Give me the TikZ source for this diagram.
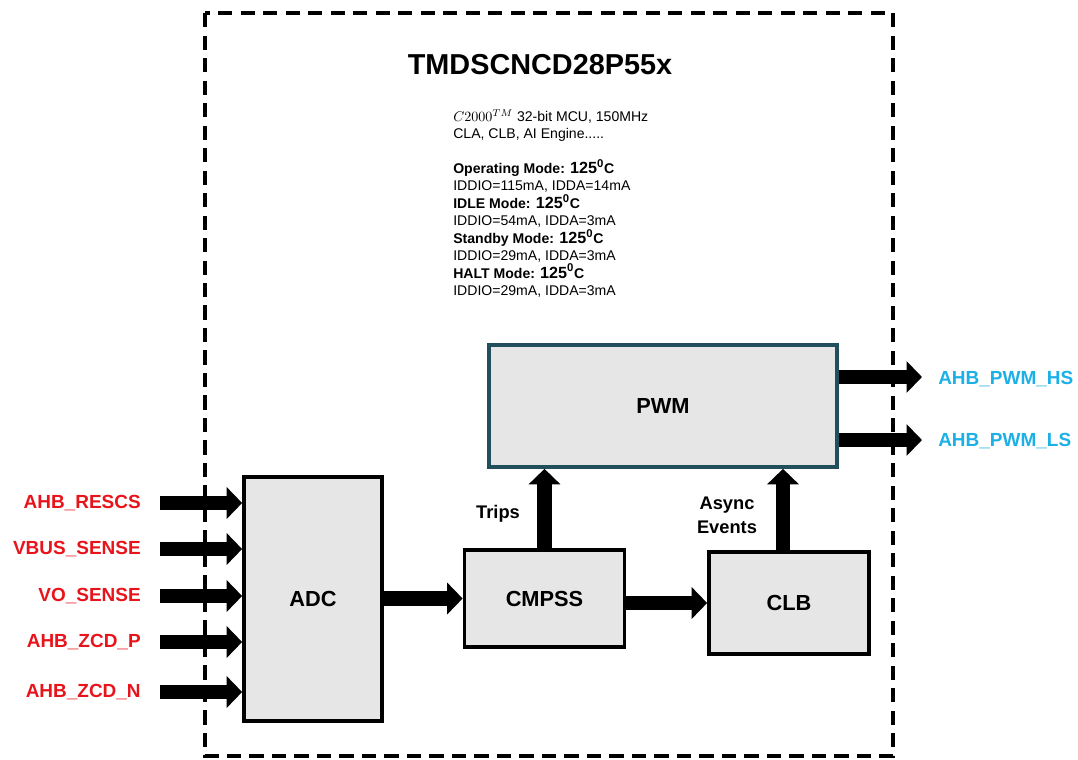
\documentclass[tikz,border=0pt]{standalone}
\usepackage{fontspec}
\setmainfont{Liberation Sans}
\usepackage{xcolor}
\usetikzlibrary{arrows.meta}
\definecolor{sigred}{RGB}{232,20,28}
\definecolor{sigcyan}{RGB}{27,176,230}
\definecolor{pwmteal}{RGB}{33,80,92}
\definecolor{blkgray}{RGB}{230,230,230}

\begin{document}
\begin{tikzpicture}[x=0.025cm,y=-0.025cm,
  block/.style={draw,line width=2.6pt,fill=blkgray,font=\fontsize{15.5}{18}\selectfont\bfseries},
  bus/.style={line width=10.5pt,-{Triangle[width=22pt,length=11pt]}},
  inlbl/.style={anchor=east,text=sigred,font=\fontsize{13.5}{16}\selectfont\bfseries,inner sep=0pt},
  outlbl/.style={anchor=west,text=sigcyan,font=\fontsize{13.5}{16}\selectfont\bfseries,inner sep=0pt},
  note/.style={font=\fontsize{13}{17}\selectfont\bfseries,align=center,inner sep=0pt}]
 \useasboundingbox (0,0) rectangle (1078,759);
 \draw[line width=2.8pt,dash pattern=on 10pt off 6pt] (205,13) rectangle (893,756);
 \node[font=\fontsize{20.5}{25}\selectfont\bfseries] (title) at (540,65) {TMDSCNCD28P55x};
 \node[anchor=north west,align=left,inner sep=0pt,font=\fontsize{10}{12.4}\selectfont] (spec) at (453,109)
  {$C2000^{TM}$ 32-bit MCU, 150MHz\\
   CLA, CLB, AI Engine.....\\[12.4pt]
   \textbf{Operating Mode: {\fontsize{11.5}{12}\selectfont$\mathbf{125^0}$}C}\\
   IDDIO=115mA, IDDA=14mA\\
   \textbf{IDLE Mode: {\fontsize{11.5}{12}\selectfont$\mathbf{125^0}$}C}\\
   IDDIO=54mA, IDDA=3mA\\
   \textbf{Standby Mode: {\fontsize{11.5}{12}\selectfont$\mathbf{125^0}$}C}\\
   IDDIO=29mA, IDDA=3mA\\
   \textbf{HALT Mode: {\fontsize{11.5}{12}\selectfont$\mathbf{125^0}$}C}\\
   IDDIO=29mA, IDDA=3mA};
 % blocks
 \node[block,draw=pwmteal,minimum width=8.7cm,minimum height=3.05cm] (PWM) at (663,406) {PWM};
 \node[block,minimum width=3.45cm,minimum height=6.1cm] (ADC) at (313,599) {ADC};
 \node[block,minimum width=4.0cm,minimum height=2.42cm] (CMPSS) at (544.5,598.5) {CMPSS};
 \node[block,minimum width=4.0cm,minimum height=2.55cm] (CLB) at (789,603) {CLB};
 % inputs
 \foreach \name/\txt/\yy in {rescs/AHB\_RESCS/503,vbus/VBUS\_SENSE/549,vo/VO\_SENSE/596,zcdp/AHB\_ZCD\_P/642,zcdn/AHB\_ZCD\_N/692}{
  \node[inlbl] (l\name) at (141,\yy) {\txt};
  \coordinate (s\name) at (160,\yy);
  \draw[bus] (s\name) -- (s\name -| ADC.west);
 }
 % internal paths
 \draw[bus] (ADC.east |- CMPSS.west) -- (CMPSS.west);
 \draw[bus] (CMPSS.east |- CLB.west) -- (CLB.west);
 \draw[bus] (CMPSS.north) -- (CMPSS.north |- PWM.south);
 \draw[bus] ([xshift=-0.15cm]CLB.north) -- ([xshift=-0.15cm]CLB.north |- PWM.south);
 \node[note] (trips) at (498,514) {Trips};
 \node[note] (async) at (727,515) {Async\\Events};
 % outputs
 \coordinate (hs) at (922,377);
 \coordinate (ls) at (922,440);
 \draw[bus] (PWM.east |- hs) -- (hs);
 \draw[bus] (PWM.east |- ls) -- (ls);
 \node[outlbl] (lhs) at (938,379) {AHB\_PWM\_HS};
 \node[outlbl] (lls) at (938,441) {AHB\_PWM\_LS};
\end{tikzpicture}
\end{document}
